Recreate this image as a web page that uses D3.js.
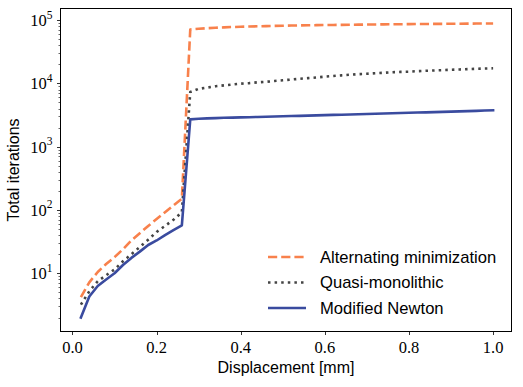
<!DOCTYPE html>
<html lang="en">
  <head>
    <meta charset="utf-8">
    <title>Total iterations</title>
    <style>
      body { margin: 0; background: #fff; }
      text { fill: #000; }
      .tick-label { font-family: 'Liberation Serif', 'DejaVu Serif', serif; font-size: 16.5px; }
      .label { font-family: 'Liberation Sans', Arial, sans-serif; font-size: 16px; }
      .legend-label { font-family: 'Liberation Sans', Arial, sans-serif; font-size: 16.6px; }
    </style>
  </head>
  <body>
    <div id="chart"></div>
    <script src="https://cdn.jsdelivr.net/npm/d3@7"></script>
    <script type="text/javascript">
    (function(d3) {
      'use strict';

      var displacement = [0.02, 0.04, 0.06, 0.08, 0.10, 0.12, 0.14, 0.16, 0.18, 0.20,
        0.22, 0.24, 0.26, 0.28, 0.30, 0.32, 0.34, 0.36, 0.38, 0.40,
        0.42, 0.44, 0.46, 0.48, 0.50, 0.52, 0.54, 0.56, 0.58, 0.60,
        0.62, 0.64, 0.66, 0.68, 0.70, 0.72, 0.74, 0.76, 0.78, 0.80,
        0.82, 0.84, 0.86, 0.88, 0.90, 0.92, 0.94, 0.96, 0.98, 1.00];

      var alternating = [4.2, 7.2, 10.5, 14, 18, 24, 33, 43, 56, 72,
        92, 118, 150, 71000, 73000, 74500, 75800, 76800, 77700, 78500,
        79200, 79800, 80400, 80900, 81400, 81900, 82300, 82700, 83100, 83500,
        83800, 84100, 84400, 84700, 85000, 85300, 85600, 85800, 86100, 86300,
        86600, 86800, 87000, 87200, 87500, 87700, 87900, 88100, 88300, 88500];

      var quasiMonolithic = [3.2, 5.2, 7.5, 9.3, 11.5, 15.5, 20, 26, 34, 45,
        56, 70, 92, 7300, 8200, 8600, 9000, 9300, 9600, 9900,
        10100, 10400, 10600, 10900, 11200, 11500, 11800, 12100, 12400, 12800,
        13100, 13400, 13700, 14000, 14200, 14500, 14700, 15000, 15200, 15300,
        15600, 15800, 16000, 16200, 16400, 16600, 16800, 17000, 17200, 17300];

      var modifiedNewton = [2.0, 4.3, 6.3, 8.0, 10, 13.5, 17.5, 22, 28, 33,
        40, 48, 57, 2700, 2760, 2800, 2830, 2860, 2880, 2900,
        2920, 2950, 2970, 3000, 3020, 3050, 3070, 3100, 3120, 3150,
        3180, 3200, 3230, 3260, 3290, 3310, 3340, 3370, 3400, 3430,
        3460, 3490, 3520, 3550, 3580, 3610, 3650, 3680, 3720, 3760];

      var seriesNames = ['Alternating minimization', 'Quasi-monolithic', 'Modified Newton'];
      var xTicks = [0.0, 0.2, 0.4, 0.6, 0.8, 1.0];
      var yExponents = [1, 2, 3, 4, 5];

      var series = [
        { name: seriesNames[0], values: alternating, color: '#f8814c', dash: '9.2,4' },
        { name: seriesNames[1], values: quasiMonolithic, color: '#444444', dash: '2.5,4.1' },
        { name: seriesNames[2], values: modifiedNewton, color: '#3a4b9f', dash: null }
      ];

      var width = 523;
      var height = 387;
      var left = 60.5, right = 511.5, top = 8.5, bottom = 331.5;

      var x = d3.scaleLinear().domain([-0.0285, 1.0437]).range([left, right]);
      var y = d3.scaleLog().domain([1.204, 152400]).range([bottom, top]);

      var svg = d3.select('#chart')
        .append('svg')
        .attr('width', width)
        .attr('height', height);

      svg.append('rect').attr('width', width).attr('height', height).attr('fill', '#fff');

      svg.append('defs').append('clipPath').attr('id', 'clip')
        .append('rect')
        .attr('x', left).attr('y', top)
        .attr('width', right - left).attr('height', bottom - top);

      // lines
      var line = d3.line()
        .x(function(d) { return x(d[0]); })
        .y(function(d) { return y(d[1]); });

      svg.append('g').attr('clip-path', 'url(#clip)')
        .selectAll('path')
        .data(series)
        .enter()
        .append('path')
        .attr('d', function(s) {
          return line(displacement.map(function(v, i) { return [v, s.values[i]]; }));
        })
        .attr('fill', 'none')
        .attr('stroke', function(s) { return s.color; })
        .attr('stroke-width', 2.6)
        .attr('stroke-linejoin', 'round')
        .attr('stroke-linecap', function(s) { return s.dash ? 'butt' : 'square'; })
        .attr('stroke-dasharray', function(s) { return s.dash; });

      // x axis
      var xAxis = svg.append('g');
      xTicks.forEach(function(t) {
        var px = Math.round(x(t)) + 0.5;
        xAxis.append('line')
          .attr('x1', px).attr('x2', px)
          .attr('y1', bottom).attr('y2', bottom + 3.5)
          .attr('stroke', '#000').attr('stroke-width', 0.8);
        xAxis.append('text')
          .attr('class', 'tick-label')
          .attr('x', x(t)).attr('y', bottom + 21.5)
          .attr('text-anchor', 'middle')
          .text(d3.format('.1f')(t));
      });

      // y axis: major and minor ticks
      var yAxis = svg.append('g');
      var yMin = y.domain()[0], yMax = y.domain()[1];
      for (var e = 0; e <= 5; e++) {
        for (var k = 2; k <= 9; k++) {
          var v = k * Math.pow(10, e);
          if (v < yMin || v > yMax) continue;
          var py = Math.round(y(v)) + 0.5;
          yAxis.append('line')
            .attr('x1', left - 2).attr('x2', left)
            .attr('y1', py).attr('y2', py)
            .attr('stroke', '#000').attr('stroke-width', 0.6);
        }
      }
      yExponents.forEach(function(e) {
        var v = Math.pow(10, e);
        var py = Math.round(y(v)) + 0.5;
        yAxis.append('line')
          .attr('x1', left - 3.5).attr('x2', left)
          .attr('y1', py).attr('y2', py)
          .attr('stroke', '#000').attr('stroke-width', 0.8);
        var label = yAxis.append('text')
          .attr('class', 'tick-label')
          .attr('x', left - 8).attr('y', y(v) + 6)
          .attr('text-anchor', 'end');
        label.append('tspan').text('10');
        label.append('tspan')
          .attr('dy', -7.5)
          .attr('font-size', '11.5px')
          .text(e);
      });

      // frame
      svg.append('rect')
        .attr('x', left).attr('y', top)
        .attr('width', right - left).attr('height', bottom - top)
        .attr('fill', 'none')
        .attr('stroke', '#000')
        .attr('stroke-width', 1);

      // axis labels
      svg.append('text')
        .attr('class', 'label')
        .attr('x', (left + right) / 2).attr('y', 373)
        .attr('text-anchor', 'middle')
        .text('Displacement [mm]');

      svg.append('text')
        .attr('class', 'label')
        .attr('transform', 'translate(19,' + ((top + bottom) / 2) + ') rotate(-90)')
        .attr('text-anchor', 'middle')
        .text('Total iterations');

      // legend
      var legend = svg.append('g').attr('transform', 'translate(268,257)');
      var rows = legend.selectAll('g')
        .data(series)
        .enter()
        .append('g')
        .attr('transform', function(d, i) { return 'translate(0,' + (i * 25.5) + ')'; });

      rows.append('line')
        .attr('x1', 0).attr('x2', 38)
        .attr('y1', 0).attr('y2', 0)
        .attr('stroke', function(s) { return s.color; })
        .attr('stroke-width', 2.6)
        .attr('stroke-dasharray', function(s) { return s.dash; });

      rows.append('text')
        .attr('class', 'legend-label')
        .attr('x', 52).attr('y', 5.5)
        .text(function(s) { return s.name; });

    })(window.d3);
    </script>
  </body>
</html>
